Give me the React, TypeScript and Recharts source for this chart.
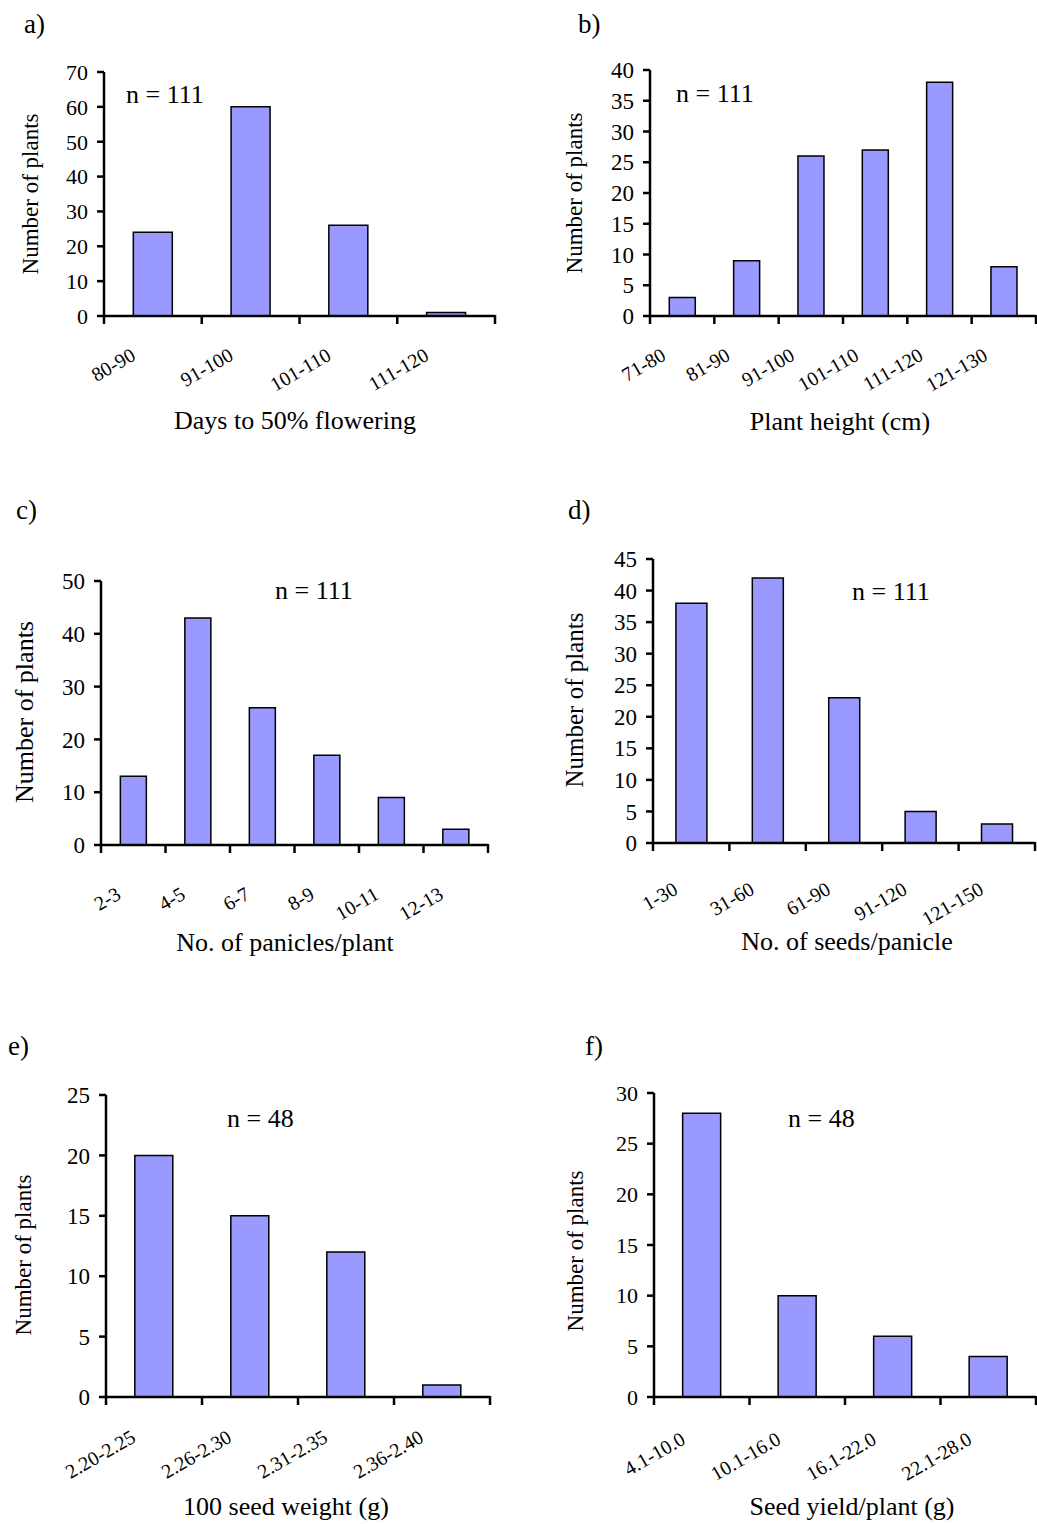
import { BarChart, Bar, XAxis, YAxis, Label } from 'recharts';

// counts
const aBins = ['80-90', '91-100', '101-110', '111-120'];
const aCounts = [24, 60, 26, 1];
const aYTicks = [0, 10, 20, 30, 40, 50, 60, 70];

const bBins = ['71-80', '81-90', '91-100', '101-110', '111-120', '121-130'];
const bCounts = [3, 9, 26, 27, 38, 8];
const bYTicks = [0, 5, 10, 15, 20, 25, 30, 35, 40];

const cBins = ['2-3', '4-5', '6-7', '8-9', '10-11', '12-13'];
const cCounts = [13, 43, 26, 17, 9, 3];
const cYTicks = [0, 10, 20, 30, 40, 50];

const dBins = ['1-30', '31-60', '61-90', '91-120', '121-150'];
const dCounts = [38, 42, 23, 5, 3];
const dYTicks = [0, 5, 10, 15, 20, 25, 30, 35, 40, 45];

const eBins = ['2.20-2.25', '2.26-2.30', '2.31-2.35', '2.36-2.40'];
const eCounts = [20, 15, 12, 1];
const eYTicks = [0, 5, 10, 15, 20, 25];

const fBins = ['4.1-10.0', '10.1-16.0', '16.1-22.0', '22.1-28.0'];
const fCounts = [28, 10, 6, 4];
const fYTicks = [0, 5, 10, 15, 20, 25, 30];

const FONT = '"Liberation Serif", "Times New Roman", serif';
const YW = 80;
const AXIS = { stroke: '#000', strokeWidth: 2.5 };

const panels = [
  {
    letter: 'a)', bins: aBins, counts: aCounts, yTicks: aYTicks, n: 'n = 111',
    xTitle: 'Days to 50% flowering',
    box: { left: 0, top: 0, width: 518, height: 460 },
    plot: { x0: 104, x1: 495, y0: 72, y1: 316 },
    tick: { ox: -16, oy: 43 }, yFont: 22,
    xt: { x: 295, y: 429 }, yt: { x: 38, y: 194, size: 23 },
    np: { x: 126, y: 103 }, lp: { x: 24, y: 33 },
  },
  {
    letter: 'b)', bins: bBins, counts: bCounts, yTicks: bYTicks, n: 'n = 111',
    xTitle: 'Plant height (cm)',
    box: { left: 518, top: 0, width: 519, height: 460 },
    plot: { x0: 650, x1: 1036, y0: 70, y1: 316 },
    tick: { ox: -15, oy: 43 }, yFont: 23,
    xt: { x: 840, y: 430 }, yt: { x: 582, y: 193, size: 23 },
    np: { x: 676, y: 102 }, lp: { x: 578, y: 33 },
  },
  {
    letter: 'c)', bins: cBins, counts: cCounts, yTicks: cYTicks, n: 'n = 111',
    xTitle: 'No. of panicles/plant',
    box: { left: 0, top: 460, width: 518, height: 520 },
    plot: { x0: 101, x1: 488, y0: 581, y1: 845 },
    tick: { ox: -11, oy: 53 }, yFont: 23,
    xt: { x: 285, y: 951 }, yt: { x: 33, y: 712, size: 26 },
    np: { x: 275, y: 599 }, lp: { x: 16, y: 519 },
  },
  {
    letter: 'd)', bins: dBins, counts: dCounts, yTicks: dYTicks, n: 'n = 111',
    xTitle: 'No. of seeds/panicle',
    box: { left: 518, top: 460, width: 519, height: 520 },
    plot: { x0: 653, x1: 1035, y0: 559, y1: 843 },
    tick: { ox: -12, oy: 50 }, yFont: 23,
    xt: { x: 847, y: 950 }, yt: { x: 583, y: 700, size: 25 },
    np: { x: 852, y: 600 }, lp: { x: 568, y: 519 },
  },
  {
    letter: 'e)', bins: eBins, counts: eCounts, yTicks: eYTicks, n: 'n = 48',
    xTitle: '100 seed weight (g)',
    box: { left: 0, top: 980, width: 518, height: 544 },
    plot: { x0: 106, x1: 490, y0: 1095, y1: 1397 },
    tick: { ox: -17, oy: 44 }, yFont: 23,
    xt: { x: 286, y: 1515 }, yt: { x: 31, y: 1255, size: 23 },
    np: { x: 227, y: 1127 }, lp: { x: 8, y: 1055 },
  },
  {
    letter: 'f)', bins: fBins, counts: fCounts, yTicks: fYTicks, n: 'n = 48',
    xTitle: 'Seed yield/plant (g)',
    box: { left: 518, top: 980, width: 519, height: 544 },
    plot: { x0: 654, x1: 1036, y0: 1093, y1: 1397 },
    tick: { ox: -15, oy: 46 }, yFont: 22,
    xt: { x: 852, y: 1515 }, yt: { x: 583, y: 1251, size: 23 },
    np: { x: 788, y: 1127 }, lp: { x: 585, y: 1055 },
  },
];

// rotated category label plus the tick marks on the bin edges (Excel style)
const BinTick = ({ x, y, payload, ox, oy, half, last }: any) => {
  const h = payload && payload.offset ? payload.offset : half;
  const isLast = payload.index === last;
  return (
    <g>
      <line x1={x - h} x2={x - h} y1={y - 1} y2={y + 8} stroke="#000" strokeWidth={2.5} />
      {isLast && <line x1={x + h} x2={x + h} y1={y - 1} y2={y + 8} stroke="#000" strokeWidth={2.5} />}
      <g transform={`translate(${x + ox},${y + oy})`}>
        <text textAnchor="end" transform="rotate(-30)" fontSize={20} fontFamily={FONT} fill="#000">
          {payload.value}
        </text>
      </g>
    </g>
  );
};

function Panel({ p }: { p: any }) {
  const { box, plot } = p;
  const data = p.bins.map((b: string, i: number) => ({ bin: b, count: p.counts[i] }));
  const margin = {
    left: plot.x0 - box.left - YW,
    right: box.left + box.width - plot.x1,
    top: plot.y0 - box.top,
    bottom: box.top + box.height - plot.y1 - 1,
  };
  const yMax = p.yTicks[p.yTicks.length - 1];
  const half = (plot.x1 - plot.x0) / p.bins.length / 2;

  return (
    <div style={{ position: 'absolute', left: box.left, top: box.top, width: box.width, height: box.height }}>
      <BarChart width={box.width} height={box.height} data={data} margin={margin} barCategoryGap="30%">
        <XAxis
          dataKey="bin"
          height={1}
          interval={0}
          axisLine={AXIS}
          tickLine={false}
          tickSize={0}
          tickMargin={0}
          tick={(t: any) => (
            <BinTick {...t} ox={p.tick.ox} oy={p.tick.oy} half={half} last={p.bins.length - 1} />
          )}
        >
          <Label
            content={() => (
              <text x={p.xt.x - box.left} y={p.xt.y - box.top} textAnchor="middle" fontSize={26} fontFamily={FONT} fill="#000">
                {p.xTitle}
              </text>
            )}
          />
        </XAxis>
        <YAxis
          width={YW}
          domain={[0, yMax]}
          ticks={p.yTicks}
          interval={0}
          tickSize={7}
          tickMargin={9}
          axisLine={AXIS}
          tickLine={AXIS}
          tick={{ fill: '#000', fontSize: p.yFont, fontFamily: FONT }}
        >
          <Label
            content={() => (
              <text
                x={p.yt.x - box.left}
                y={p.yt.y - box.top}
                transform={`rotate(-90, ${p.yt.x - box.left}, ${p.yt.y - box.top})`}
                textAnchor="middle"
                fontSize={p.yt.size}
                fontFamily={FONT}
                fill="#000"
              >
                Number of plants
              </text>
            )}
          />
        </YAxis>
        <Bar dataKey="count" fill="#9999FF" stroke="#000" strokeWidth={1.5} isAnimationActive={false} />
      </BarChart>
      <div style={{ position: 'absolute', left: p.np.x - box.left, top: p.np.y - box.top - 23, fontFamily: FONT, fontSize: 26, lineHeight: '30px', whiteSpace: 'nowrap' }}>
        {p.n}
      </div>
      <div style={{ position: 'absolute', left: p.lp.x - box.left, top: p.lp.y - box.top - 24, fontFamily: FONT, fontSize: 27, lineHeight: '31px' }}>
        {p.letter}
      </div>
    </div>
  );
}

export default function App() {
  return (
    <div style={{ position: 'absolute', left: 0, top: 0, width: 1037, height: 1524, background: '#fff' }}>
      {panels.map((p) => (
        <Panel key={p.letter} p={p} />
      ))}
    </div>
  );
}
